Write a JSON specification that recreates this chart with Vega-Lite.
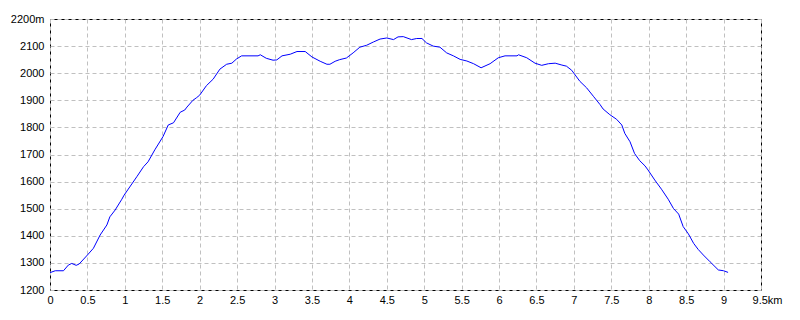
{
  "$schema": "https://vega.github.io/schema/vega-lite/v6.json",
  "width": 711,
  "height": 271,
  "autosize": {"type": "none"},
  "padding": {"left": 50, "top": 19, "right": 39, "bottom": 30},
  "background": "white",
  "config": {
    "view": {"stroke": "black", "strokeWidth": 1},
    "axis": {
      "labelFont": "Liberation Sans",
      "labelFontSize": 11,
      "labelColor": "black",
      "domain": false,
      "ticks": false,
      "tickSize": 0,
      "grid": true,
      "gridColor": "#c0c0c0",
      "gridDash": [4, 3],
      "gridWidth": 1,
      "gridOpacity": 1,
      "title": null
    }
  },
  "data": {
    "values": [
      {"km": 0, "m": 1264}, {"km": 0.07, "m": 1271}, {"km": 0.18, "m": 1271},
      {"km": 0.245, "m": 1292}, {"km": 0.29, "m": 1298}, {"km": 0.35, "m": 1291},
      {"km": 0.39, "m": 1296}, {"km": 0.5, "m": 1329}, {"km": 0.58, "m": 1354},
      {"km": 0.67, "m": 1403}, {"km": 0.76, "m": 1440}, {"km": 0.8, "m": 1470},
      {"km": 0.87, "m": 1495}, {"km": 0.96, "m": 1535}, {"km": 0.99, "m": 1550},
      {"km": 1.16, "m": 1618}, {"km": 1.25, "m": 1655}, {"km": 1.31, "m": 1673},
      {"km": 1.4, "m": 1717}, {"km": 1.51, "m": 1766}, {"km": 1.58, "m": 1809},
      {"km": 1.65, "m": 1817}, {"km": 1.74, "m": 1856}, {"km": 1.8, "m": 1864},
      {"km": 1.83, "m": 1875}, {"km": 1.91, "m": 1900}, {"km": 1.96, "m": 1910},
      {"km": 2.0, "m": 1919}, {"km": 2.09, "m": 1954}, {"km": 2.18, "m": 1978},
      {"km": 2.27, "m": 2015}, {"km": 2.36, "m": 2033}, {"km": 2.43, "m": 2037},
      {"km": 2.49, "m": 2052}, {"km": 2.56, "m": 2064}, {"km": 2.78, "m": 2064},
      {"km": 2.81, "m": 2068}, {"km": 2.89, "m": 2055}, {"km": 2.98, "m": 2048},
      {"km": 3.03, "m": 2049}, {"km": 3.1, "m": 2064}, {"km": 3.21, "m": 2070},
      {"km": 3.3, "m": 2080}, {"km": 3.41, "m": 2080}, {"km": 3.5, "m": 2060},
      {"km": 3.61, "m": 2044}, {"km": 3.7, "m": 2033}, {"km": 3.74, "m": 2033},
      {"km": 3.81, "m": 2044}, {"km": 3.87, "m": 2050}, {"km": 3.96, "m": 2056},
      {"km": 4.05, "m": 2075}, {"km": 4.14, "m": 2096}, {"km": 4.23, "m": 2103},
      {"km": 4.32, "m": 2115}, {"km": 4.41, "m": 2126}, {"km": 4.5, "m": 2130},
      {"km": 4.59, "m": 2124}, {"km": 4.65, "m": 2134}, {"km": 4.72, "m": 2135},
      {"km": 4.83, "m": 2124}, {"km": 4.9, "m": 2128}, {"km": 4.97, "m": 2128},
      {"km": 5.03, "m": 2112}, {"km": 5.12, "m": 2100}, {"km": 5.21, "m": 2096},
      {"km": 5.3, "m": 2075}, {"km": 5.39, "m": 2064}, {"km": 5.48, "m": 2051},
      {"km": 5.57, "m": 2045}, {"km": 5.66, "m": 2035}, {"km": 5.76, "m": 2020},
      {"km": 5.88, "m": 2035}, {"km": 5.99, "m": 2057}, {"km": 6.08, "m": 2064},
      {"km": 6.24, "m": 2064}, {"km": 6.26, "m": 2068}, {"km": 6.37, "m": 2057},
      {"km": 6.48, "m": 2037}, {"km": 6.57, "m": 2029}, {"km": 6.66, "m": 2035},
      {"km": 6.75, "m": 2037}, {"km": 6.84, "m": 2030}, {"km": 6.9, "m": 2026},
      {"km": 6.97, "m": 2011}, {"km": 7.08, "m": 1970}, {"km": 7.17, "m": 1946},
      {"km": 7.26, "m": 1915}, {"km": 7.35, "m": 1884}, {"km": 7.39, "m": 1868},
      {"km": 7.48, "m": 1847}, {"km": 7.57, "m": 1830}, {"km": 7.64, "m": 1809},
      {"km": 7.68, "m": 1778}, {"km": 7.75, "m": 1747}, {"km": 7.81, "m": 1704},
      {"km": 7.88, "m": 1677}, {"km": 7.95, "m": 1658}, {"km": 7.99, "m": 1643},
      {"km": 8.08, "m": 1606}, {"km": 8.17, "m": 1572}, {"km": 8.26, "m": 1535},
      {"km": 8.33, "m": 1501}, {"km": 8.4, "m": 1480}, {"km": 8.46, "m": 1434},
      {"km": 8.53, "m": 1407}, {"km": 8.6, "m": 1372}, {"km": 8.66, "m": 1350},
      {"km": 8.73, "m": 1329}, {"km": 8.82, "m": 1304}, {"km": 8.93, "m": 1274},
      {"km": 9.0, "m": 1271}, {"km": 9.06, "m": 1265}
    ]
  },
  "mark": {"type": "line", "color": "#0000ff", "strokeWidth": 1, "interpolate": "linear"},
  "encoding": {
    "x": {
      "field": "km",
      "type": "quantitative",
      "scale": {"domain": [0, 9.5], "nice": false, "zero": false},
      "axis": {
        "values": [0, 0.5, 1, 1.5, 2, 2.5, 3, 3.5, 4, 4.5, 5, 5.5, 6, 6.5, 7, 7.5, 8, 8.5, 9, 9.5],
        "labelExpr": "datum.value == 9.5 ? '9.5km' : '' + datum.value",
        "labelPadding": 4,
        "labelOffset": {"condition": {"test": "datum.value == 9.5", "value": 6}, "value": 0},
        "labelFlush": false,
        "labelOverlap": false
      }
    },
    "y": {
      "field": "m",
      "type": "quantitative",
      "scale": {"domain": [1200, 2200], "nice": false, "zero": false},
      "axis": {
        "values": [1200, 1300, 1400, 1500, 1600, 1700, 1800, 1900, 2000, 2100, 2200],
        "labelExpr": "datum.value == 2200 ? '2200m' : '' + datum.value",
        "labelPadding": 6,
        "labelFlush": false,
        "labelOverlap": false
      }
    }
  }
}
